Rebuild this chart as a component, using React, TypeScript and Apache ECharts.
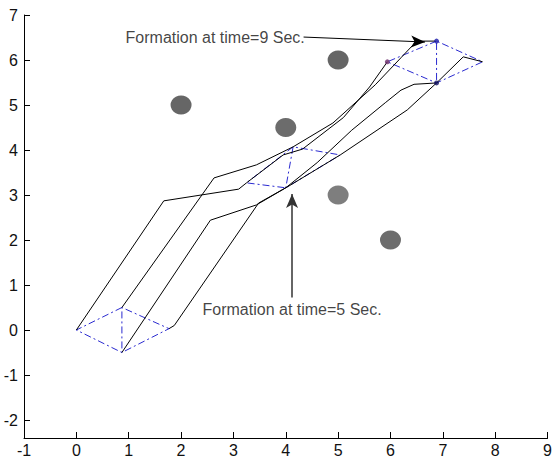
import React, { useEffect, useRef } from "react";
import * as echarts from "echarts";

const xTickValues = [-1, 0, 1, 2, 3, 4, 5, 6, 7, 8, 9];
const yTickValues = [-2, -1, 0, 1, 2, 3, 4, 5, 6, 7];

const obstacleX = [2, 4, 5, 5, 6];
const obstacleY = [5, 4.5, 6, 3, 2];
const obstacleShade = ["#404040", "#474747", "#3e3e3e", "#5e5e5e", "#484848"];

// formation vertices: Left, Top, Right, Bottom
const formationT0 = [[0, 0], [0.87, 0.5], [1.77, 0.03], [0.87, -0.5]];
const formationT5 = [[3.25, 3.27], [4.14, 4.07], [5.04, 3.89], [4.0, 3.16]];
const formationT9 = [[5.94, 5.96], [6.88, 6.42], [7.76, 5.96], [6.88, 5.49]];

const pathLeft = [[0, 0], [1.67, 2.87], [3.1, 3.13], [3.25, 3.27], [3.95, 3.89], [4.32, 4.02], [5.1, 4.72], [5.6, 5.4], [5.94, 5.96]];
const pathTop = [[0.87, 0.5], [2.63, 3.38], [3.44, 3.67], [4.14, 4.07], [4.9, 4.6], [5.71, 5.45], [6.2, 6.05], [6.5, 6.42], [6.86, 6.42]];
const pathBottom = [[0.87, -0.5], [2.56, 2.44], [3.44, 2.78], [4.0, 3.16], [4.6, 3.72], [5.26, 4.44], [5.9, 5.05], [6.2, 5.33], [6.45, 5.46], [6.88, 5.49]];
const pathRight = [[1.77, 0.03], [1.87, 0.1], [3.48, 2.82], [4.06, 3.2], [5.04, 3.89], [6.32, 4.89], [6.88, 5.49], [7.39, 6.07], [7.76, 5.96]];

const finalMarkers = [[5.94, 5.96], [6.88, 6.42], [6.88, 5.49]];
const finalMarkerColors = ["#6a2a6a", "#1a1aa8", "#101060"];

const note9Text = "Formation at time=9 Sec.";
const note9Pos = [0.94, 6.51];
const note9Arrow = [[4.34, 6.51], [6.66, 6.4]];
const note5Text = "Formation at time=5 Sec.";
const note5Pos = [2.41, 0.45];
const note5Arrow = [[4.12, 0.72], [4.12, 3.02]];

const FONT = "'Liberation Sans', Arial, Helvetica, sans-serif";

function eulerOutline(f: number[][]) {
  const [L, T, R, B] = f;
  return [T, L, B, R, T, B];
}

export default function App() {
  const ref = useRef<HTMLDivElement>(null);
  useEffect(() => {
    if (!ref.current) return;
    const chart = echarts.init(ref.current, undefined, { renderer: "svg" });
    const pathSeries = [pathLeft, pathTop, pathBottom, pathRight].map((p) => ({
      type: "line",
      data: p,
      symbol: "none",
      lineStyle: { color: "#000000", width: 1 },
      z: 3,
      silent: true,
    }));
    const formationSeries = [formationT0, formationT5, formationT9].map((f) => ({
      type: "line",
      data: eulerOutline(f),
      symbol: "none",
      lineStyle: { color: "#2a2ad0", width: 1, type: [7, 3, 2, 3] },
      z: 2,
      silent: true,
    }));
    chart.setOption({
      animation: false,
      backgroundColor: "#ffffff",
      grid: { left: 24, right: 0, top: 15, bottom: 21 },
      xAxis: {
        type: "value",
        min: -1,
        max: 9,
        interval: 1,
        splitLine: { show: false },
        axisLine: { onZero: false, lineStyle: { color: "#000", width: 1 } },
        axisTick: { inside: true, length: 6, lineStyle: { color: "#000" }, customValues: xTickValues },
        axisLabel: { color: "#111", fontSize: 16, fontFamily: FONT, margin: 4, customValues: xTickValues, showMinLabel: true, showMaxLabel: true },
      },
      yAxis: {
        type: "value",
        min: -2.4,
        max: 7,
        splitLine: { show: false },
        axisLine: { show: true, onZero: false, lineStyle: { color: "#000", width: 1 } },
        axisTick: { show: true, inside: true, length: 6, lineStyle: { color: "#000" }, customValues: yTickValues },
        axisLabel: { color: "#111", fontSize: 16, fontFamily: FONT, margin: 6, customValues: yTickValues },
      },
      series: [
        {
          type: "scatter",
          data: obstacleX.map((x, i) => ({ value: [x, obstacleY[i]], itemStyle: { color: obstacleShade[i] } })),
          symbol: "circle",
          symbolSize: [21, 19],
          z: 1,
          silent: true,
        },
        ...formationSeries,
        ...pathSeries,
        {
          type: "scatter",
          data: finalMarkers.map((p, i) => ({ value: p, itemStyle: { color: finalMarkerColors[i] } })),
          symbolSize: 5,
          z: 4,
          silent: true,
        },
        {
          type: "scatter",
          data: [
            { value: note9Pos, label: { formatter: note9Text } },
            { value: note5Pos, label: { formatter: note5Text } },
          ],
          symbolSize: 0,
          label: { show: true, position: "right", distance: 0, color: "#111", fontSize: 16, fontFamily: FONT },
          z: 5,
          silent: true,
          markLine: {
            silent: true,
            symbol: ["none", "arrow"],
            symbolSize: [9, 14],
            label: { show: false },
            data: [
              [
                { coord: note9Arrow[0], lineStyle: { color: "#000", width: 1, type: "solid" } },
                { coord: note9Arrow[1] },
              ],
              [
                { coord: note5Arrow[0], lineStyle: { color: "#333", width: 1.5, type: "solid" } },
                { coord: note5Arrow[1] },
              ],
            ],
            lineStyle: { type: "solid" },
            itemStyle: { color: "#111" },
          },
        },
      ],
    });
    return () => chart.dispose();
  }, []);
  return <div ref={ref} style={{ position: "absolute", left: 0, top: 0, width: 555, height: 459 }} />;
}
